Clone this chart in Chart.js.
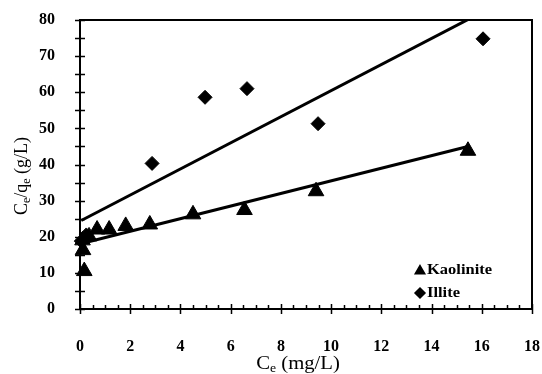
<!DOCTYPE html>
<html>
<head>
<meta charset="utf-8">
<script src="https://cdn.jsdelivr.net/npm/chart.js@4.4.1/dist/chart.umd.min.js"></script>
<style>
  html, body { margin: 0; padding: 0; background: #fff; }
  #wrap { width: 542px; height: 374px; }
</style>
</head>
<body>
<div id="wrap"><canvas id="isoChart" width="542" height="374"></canvas></div>
<script>
// values
var kaoX = [0.17, 0.12, 0.10, 0.36, 0.68, 1.16, 1.82, 2.78, 4.50, 6.55, 9.40, 15.45];
var kaoY = [10.5, 16.3, 19.0, 20.1, 22.0, 22.0, 23.0, 23.4, 26.2, 27.4, 32.6, 43.8];
var illX = [0.05, 0.25, 2.87, 4.98, 6.65, 9.48, 16.05];
var illY = [18.8, 20.5, 40.3, 58.6, 61.0, 51.3, 74.8];
// trend line end points
var kaoFitX = [0.10, 15.45];
var kaoFitY = [18.2, 45.0];
var illFitX = [0.05, 16.05];
var illFitY = [24.5, 82.3];
var xTicks = [0, 2, 4, 6, 8, 10, 12, 14, 16, 18];
var yTicks = [0, 10, 20, 30, 40, 50, 60, 70, 80];

function pairs(xs, ys) {
    var out = [];
    for (var i = 0; i < xs.length; i++) {
        out.push({ x: xs[i], y: ys[i] });
    }
    return out;
}

var serif = "'Liberation Serif', 'Times New Roman', serif";

// frame, crossing ticks, sub-scripted axis titles, legend
var decorations = {
    id: 'decorations',
    afterDraw: function (chart) {
        var ctx = chart.ctx;
        var xs = chart.scales.x, ys = chart.scales.y;
        var a = chart.chartArea;
        ctx.save();
        ctx.strokeStyle = '#000';
        ctx.lineWidth = 2;
        ctx.beginPath();
        ctx.moveTo(a.left, a.top);
        ctx.lineTo(a.right, a.top);
        ctx.lineTo(a.right, a.bottom);
        ctx.stroke();

        ctx.lineWidth = 1.5;
        ctx.beginPath();
        for (var v = 0; v <= 80; v += 5) {
            var py = Math.round(ys.getPixelForValue(v)) + 0.5;
            ctx.moveTo(a.left - 5, py);
            ctx.lineTo(a.left + 5, py);
        }
        for (var k = 0; k <= 36; k++) {
            var xv = k * 0.5;
            var px = Math.round(xs.getPixelForValue(xv)) + 0.5;
            if (k % 4 === 0) {
                ctx.moveTo(px, a.bottom - 5);
                ctx.lineTo(px, a.bottom + 5);
            } else {
                ctx.moveTo(px, a.bottom - 4);
                ctx.lineTo(px, a.bottom);
            }
        }
        ctx.stroke();

        ctx.fillStyle = '#000';
        // x title: Ce (mg/L)
        ctx.textBaseline = 'alphabetic';
        ctx.textAlign = 'left';
        var big = '18px ' + serif, small = '12px ' + serif;
        ctx.font = big;
        var w1 = ctx.measureText('C').width;
        var w3 = ctx.measureText(' (mg/L)').width;
        ctx.font = small;
        var w2 = ctx.measureText('e').width;
        ctx.save();
        ctx.translate(298, 369);
        ctx.scale(1.15, 1);
        var tx = -(w1 + w2 + w3) / 2;
        ctx.font = big; ctx.fillText('C', tx, 0);
        ctx.font = small; ctx.fillText('e', tx + w1, 3);
        ctx.font = big; ctx.fillText(' (mg/L)', tx + w1 + w2, 0);
        ctx.restore();

        // y title: Ce/qe (g/L)
        ctx.save();
        ctx.translate(27, 176);
        ctx.rotate(-Math.PI / 2);
        var parts = [['C', big, 0], ['e', small, 3], ['/q', big, 0], ['e', small, 3], [' (g/L)', big, 0]];
        var total = 0;
        parts.forEach(function (p) { ctx.font = p[1]; total += ctx.measureText(p[0]).width; });
        var cx = -total / 2;
        parts.forEach(function (p) {
            ctx.font = p[1];
            ctx.fillText(p[0], cx, p[2]);
            cx += ctx.measureText(p[0]).width;
        });
        ctx.restore();

        // legend inside plot
        var items = [
            { label: 'Kaolinite', style: 'triangle', r: 5.5, y: 270 },
            { label: 'Illite', style: 'rectRot', r: 5, y: 293 }
        ];
        ctx.font = 'bold 15px ' + serif;
        ctx.textBaseline = 'middle';
        items.forEach(function (it) {
            Chart.helpers.drawPoint(ctx, { pointStyle: it.style, radius: it.r, borderWidth: 0.5 }, 420, it.y + (it.style === 'triangle' ? 1 : 0));
            ctx.save();
            ctx.translate(427, it.y);
            ctx.scale(1.1, 1);
            ctx.fillText(it.label, 0, 0);
            ctx.restore();
        });
        ctx.restore();
    }
};

function noPad(scale) {
    scale.paddingTop = 0;
    scale.paddingBottom = 0;
    scale.paddingLeft = 0;
    scale.paddingRight = 0;
}

var ctx = document.getElementById('isoChart');
var isoChart = new Chart(ctx, {
    type: 'scatter',
    data: {
        datasets: [{
            label: 'Kaolinite',
            data: pairs(kaoX, kaoY),
            pointStyle: 'triangle',
            pointRadius: 9,
            pointBorderWidth: 1,
            backgroundColor: '#000',
            borderColor: '#000',
            clip: false
        }, {
            label: 'Illite',
            data: pairs(illX, illY),
            pointStyle: 'rectRot',
            pointRadius: 7,
            pointBorderWidth: 1,
            backgroundColor: '#000',
            borderColor: '#000',
            clip: false
        }, {
            label: 'Kaolinite fit',
            data: pairs(kaoFitX, kaoFitY),
            showLine: true,
            pointRadius: 0,
            borderColor: '#000',
            borderWidth: 3
        }, {
            label: 'Illite fit',
            data: pairs(illFitX, illFitY),
            showLine: true,
            pointRadius: 0,
            borderColor: '#000',
            borderWidth: 3
        }]
    },
    options: {
        responsive: false,
        animation: false,
        layout: { autoPadding: false, padding: { left: 0, right: 10, top: 20, bottom: 0 } },
        plugins: {
            legend: { display: false },
            tooltip: { enabled: false }
        },
        scales: {
            x: {
                type: 'linear',
                min: 0,
                max: 18,
                afterFit: function (scale) { scale.height = 65; noPad(scale); },
                afterBuildTicks: function (scale) {
                    scale.ticks = xTicks.map(function (v) { return { value: v }; });
                },
                grid: { display: false, drawTicks: false },
                border: { display: true, color: '#000', width: 2 },
                ticks: {
                    color: '#000',
                    padding: 28,
                    maxRotation: 0,
                    font: { family: serif, size: 16, weight: 'bold' }
                }
            },
            y: {
                type: 'linear',
                min: 0,
                max: 80,
                afterFit: function (scale) { scale.width = 80; noPad(scale); },
                afterBuildTicks: function (scale) {
                    scale.ticks = yTicks.map(function (v) { return { value: v }; });
                },
                grid: { display: false, drawTicks: false },
                border: { display: true, color: '#000', width: 2 },
                ticks: {
                    color: '#000',
                    padding: 25,
                    font: { family: serif, size: 16, weight: 'bold' }
                }
            }
        }
    },
    plugins: [decorations]
});
</script>
</body>
</html>
